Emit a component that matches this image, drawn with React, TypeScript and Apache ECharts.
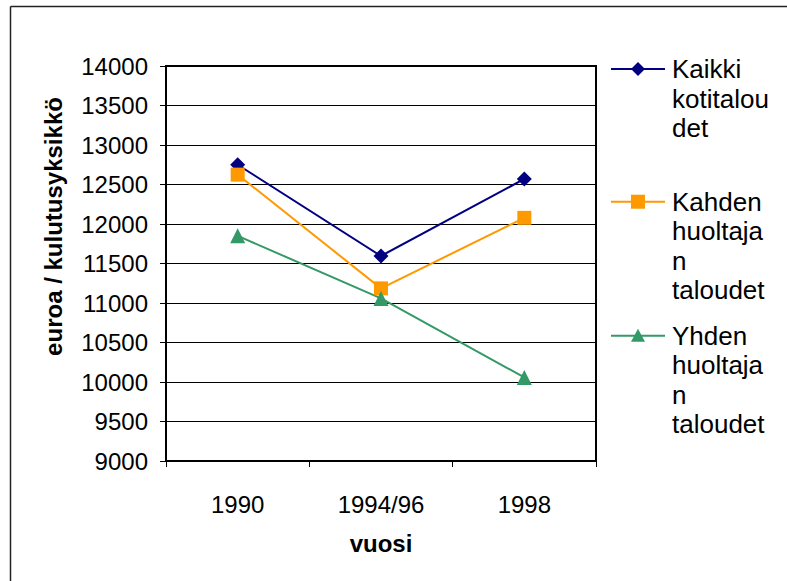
import React, { useEffect, useRef } from "react";
import * as echarts from "echarts";

const categories = ["1990", "1994/96", "1998"];
const kaikki = [12750, 11595, 12570];
const kahden = [12625, 11185, 12078];
const yhden = [11850, 11058, 10058];
const seriesNames = ["Kaikki\nkotitalou\ndet", "Kahden\nhuoltaja\nn\ntaloudet", "Yhden\nhuoltaja\nn\ntaloudet"];
const colors = ["#000080", "#FF9900", "#339966"];
const yTitle = "euroa / kulutusyksikkö";
const xTitle = "vuosi";

const FONT = "'Liberation Sans', Arial, sans-serif";

export default function App() {
  const ref = useRef<HTMLDivElement>(null);
  useEffect(() => {
    if (!ref.current) return;
    const chart = echarts.init(ref.current, null, { renderer: "svg" });
    const legendY = [69, 201.7, 335.7];
    const lh = 29.5;
    const legendGraphics: any[] = [];
    const markerFor = (i: number, cx: number, cy: number) => {
      const c = colors[i];
      if (i === 0)
        return { type: "polygon", shape: { points: [[cx, cy - 7], [cx + 7, cy], [cx, cy + 7], [cx - 7, cy]] }, style: { fill: c } };
      if (i === 1)
        return { type: "rect", shape: { x: cx - 7, y: cy - 7, width: 14, height: 14 }, style: { fill: c } };
      return { type: "polygon", shape: { points: [[cx, cy - 7], [cx + 7, cy + 6], [cx - 7, cy + 6]] }, style: { fill: c } };
    };
    seriesNames.forEach((name, i) => {
      const y = legendY[i];
      legendGraphics.push({ type: "line", shape: { x1: 611, y1: y, x2: 665, y2: y }, style: { stroke: colors[i], lineWidth: 2 } });
      legendGraphics.push(markerFor(i, 638, y));
      legendGraphics.push({
        type: "text",
        x: 672,
        y: y - lh / 2,
        style: { text: name, font: `26px ${FONT}`, fill: "#000", lineHeight: lh, verticalAlign: "top", align: "left" },
      });
    });

    const mk = (name: string, data: number[], color: string, symbol: string, size: number) => ({
      name,
      type: "line",
      data,
      symbol,
      symbolSize: size,
      lineStyle: { color, width: 2 },
      itemStyle: { color },
    });

    chart.setOption({
      animation: false,
      backgroundColor: "#fff",
      textStyle: { fontFamily: FONT },
      grid: { left: 166, right: 191, top: 66, bottom: 120, show: true, borderColor: "#000", borderWidth: 2, backgroundColor: "transparent" },
      xAxis: {
        type: "category",
        data: categories,
        boundaryGap: true,
        axisLine: { lineStyle: { color: "#000", width: 2 } },
        axisTick: { show: true, length: 6, lineStyle: { color: "#000" } },
        axisLabel: { color: "#000", fontSize: 24, fontFamily: FONT, margin: 31 },
      },
      yAxis: {
        type: "value",
        min: 9000,
        max: 14000,
        interval: 500,
        axisLine: { show: true, lineStyle: { color: "#000", width: 2 } },
        axisTick: { show: true, length: 6, lineStyle: { color: "#000" } },
        axisLabel: { color: "#000", fontSize: 24, fontFamily: FONT, margin: 18, formatter: (v: number) => String(v) },
        splitLine: { show: true, lineStyle: { color: "#000", width: 1 } },
      },
      series: [
        mk(seriesNames[0], kaikki, colors[0], "diamond", 15),
        mk(seriesNames[1], kahden, colors[1], "rect", 14),
        mk(seriesNames[2], yhden, colors[2], "triangle", 15),
      ],
      graphic: [
        { type: "line", shape: { x1: 10.5, y1: 6.5, x2: 787, y2: 6.5 }, style: { stroke: "#222", lineWidth: 1.5 } },
        { type: "line", shape: { x1: 10.5, y1: 6.5, x2: 10.5, y2: 581 }, style: { stroke: "#222", lineWidth: 1.5 } },
        {
          type: "text",
          x: 53,
          y: 226.5,
          rotation: Math.PI / 2,
          style: { text: yTitle, font: `bold 24px ${FONT}`, fill: "#000", align: "center", verticalAlign: "middle" },
        },
        {
          type: "text",
          x: 381,
          y: 543.7,
          style: { text: xTitle, font: `bold 24px ${FONT}`, fill: "#000", align: "center", verticalAlign: "middle" },
        },
        ...legendGraphics,
      ],
    });
    return () => chart.dispose();
  }, []);
  return <div ref={ref} style={{ position: "absolute", left: 0, top: 0, width: 787, height: 581 }} />;
}
